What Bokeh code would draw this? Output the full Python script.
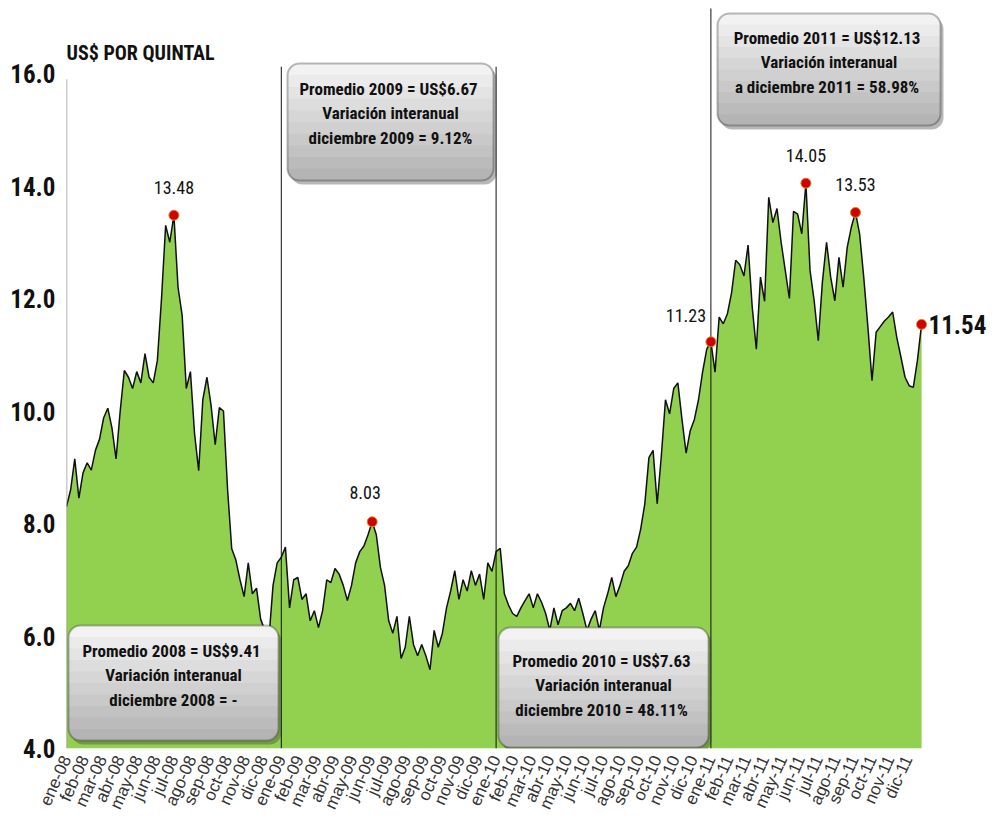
import numpy as np
from bokeh.plotting import figure
from bokeh.models import FixedTicker, NumeralTickFormatter, BoxAnnotation, Label
from bokeh.core.properties import value
from bokeh.embed import file_html
from bokeh.resources import INLINE

# ---------------- datos ----------------
meses = ["ene", "feb", "mar", "abr", "may", "jun", "jul", "ago", "sep", "oct", "nov", "dic"]
anios = ["08", "09", "10", "11"]
etiquetas_meses = [f"{m}-{a}" for a in anios for m in meses]

# precios semanales (US$ por quintal)
precios_2008 = [8.30, 8.60, 9.15, 8.45, 8.90, 9.08, 8.95, 9.30, 9.50, 9.88, 10.05, 9.70, 9.15,
                10.00, 10.72, 10.60, 10.40, 10.70, 10.50, 11.02, 10.60, 10.50, 10.90, 12.00, 13.30, 13.00,
                13.48, 12.20, 11.70, 10.40, 10.70, 9.60, 8.94, 10.20, 10.60, 10.10, 9.40, 10.06, 10.00,
                8.60, 7.55, 7.35, 7.00, 6.70, 7.30, 6.75, 6.85, 6.30, 6.10, 5.95, 6.90, 7.30]
precios_2009 = [7.40, 7.58, 6.50, 7.00, 7.04, 6.65, 6.75, 6.27, 6.45, 6.15, 6.45, 7.00, 6.95,
                7.20, 7.10, 6.90, 6.63, 6.90, 7.30, 7.50, 7.60, 7.80, 8.03, 7.80, 7.22, 6.90,
                6.27, 6.05, 6.35, 5.60, 5.80, 6.35, 5.85, 5.65, 5.85, 5.65, 5.40, 6.10, 5.80,
                6.05, 6.50, 6.80, 7.16, 6.65, 7.00, 6.80, 7.16, 6.90, 7.10, 6.65, 7.30, 7.15]
precios_2010 = [7.50, 7.56, 6.75, 6.55, 6.40, 6.35, 6.50, 6.63, 6.75, 6.50, 6.75, 6.60, 6.40,
                6.10, 6.50, 6.20, 6.45, 6.50, 6.58, 6.45, 6.67, 6.40, 6.10, 6.30, 6.45, 6.10,
                6.50, 6.75, 7.04, 6.70, 6.90, 7.15, 7.25, 7.47, 7.58, 7.90, 8.35, 9.17, 9.30,
                8.35, 9.20, 10.20, 9.95, 10.40, 10.50, 9.85, 9.25, 9.65, 9.85, 10.20, 10.70, 11.10]
precios_2011 = [11.23, 10.69, 11.67, 11.55, 11.73, 12.10, 12.68, 12.60, 12.40, 12.95, 11.85, 11.10, 12.38,
                11.95, 13.80, 13.35, 13.60, 13.00, 12.50, 12.00, 13.55, 13.50, 13.15, 14.05, 12.50, 11.96,
                11.25, 12.30, 13.00, 12.38, 11.96, 12.73, 12.20, 12.91, 13.27, 13.53, 13.15, 12.38, 11.50,
                10.54, 11.40, 11.50, 11.60, 11.67, 11.76, 11.31, 10.96, 10.60, 10.45, 10.42, 10.90, 11.54]

destacados = [13.48, 8.03, 11.23, 14.05, 13.53, 11.54]

recuadros = [
    ["Promedio 2008  = US$9.41", "Variación interanual", "diciembre 2008 = -"],
    ["Promedio 2009  = US$6.67", "Variación interanual", "diciembre 2009 = 9.12%"],
    ["Promedio 2010  = US$7.63", "Variación interanual", "diciembre 2010 =  48.11%"],
    ["Promedio 2011  = US$12.13", "Variación interanual", "a diciembre 2011 =  58.98%"],
]

# ---------------- geometria / estilo ----------------
PXM = 17.9      # px por mes
PXV = 56.25     # px por unidad de precio
X0, Y16 = 66, 73  # posicion en pagina de (mes 0, 16.0)

def mx(px):
    return (px - X0) / PXM

def vy(py):
    return 16 - (py - Y16) / PXV

VERDE = "#92d050"
F_TXT = "Roboto Condensed"

series = [precios_2008, precios_2009, precios_2010, precios_2011]
xs, ys = [], []
for k, serie in enumerate(series):
    for w, v in enumerate(serie):
        xs.append(12 * k + 12 * w / 52)
        ys.append(v)
xs = np.array(xs)
ys = np.array(ys)

W, H = 990, 832
FL, FT = 66, 8
FB = H - 748
FW, FH = W - FL, H - FT - FB

p = figure(width=W, height=H, x_range=(0, FW / PXM), y_range=(4, 4 + FH / PXV),
           output_backend="svg", toolbar_location=None,
           min_border_left=FL, min_border_right=0, min_border_top=FT, min_border_bottom=FB)
p.outline_line_color = None
p.xgrid.visible = False
p.ygrid.visible = False
p.background_fill_color = "white"
p.border_fill_color = "white"

# area
p.varea(x=xs, y1=4, y2=ys, fill_color=VERDE)
p.line(xs, ys, line_color="#111111", line_width=1.5)

# lineas de separacion de anios
p.segment(x0=[12, 24, 36], y0=[4, 4, 4], x1=[12, 24, 36], y1=[16.12, 16.12, 17.2],
          line_color="#111111", line_width=1)
# eje y
p.segment(x0=[0], y0=[4], x1=[0], y1=[15.9], line_color="#999999", line_width=1.5)

# ejes
for ax in (p.xaxis[0], p.yaxis[0]):
    ax.axis_line_color = None
    ax.major_tick_line_color = None
    ax.minor_tick_line_color = None
    ax.major_tick_out = 0
    ax.major_tick_in = 0
    ax.minor_tick_out = 0
    ax.minor_tick_in = 0

p.yaxis.ticker = FixedTicker(ticks=[4, 6, 8, 10, 12, 14, 16])
p.yaxis.formatter = NumeralTickFormatter(format="0.0")
p.yaxis.major_label_text_font = F_TXT
p.yaxis.major_label_text_font_style = "bold"
p.yaxis.major_label_text_font_size = "25px"
p.yaxis.major_label_text_color = "#111111"
p.yaxis.major_label_standoff = 11

p.xaxis.ticker = FixedTicker(ticks=list(range(48)))
p.xaxis.major_label_overrides = {i: t for i, t in enumerate(etiquetas_meses)}
p.xaxis.major_label_orientation = 1.15
p.xaxis.major_label_text_font = "Liberation Sans"
p.xaxis.major_label_text_font_size = "17px"
p.xaxis.major_label_text_color = "#333333"
p.xaxis.major_label_standoff = 8

# titulo del eje
p.text(x=[0], y=[vy(52)], text=["US$ POR QUINTAL"], text_font=value(F_TXT),
       text_font_style="bold", text_font_size="20px", text_align="left",
       text_baseline="middle", text_color="#111111")

# puntos destacados
idx = [int(np.where(np.isclose(ys, v))[0][0]) for v in destacados]
px_ = xs[idx]
py_ = ys[idx]
p.scatter(px_, py_, size=10, fill_color="#d40000", line_color="#d08a20", line_width=1)

desp_x = [0, -7, -25, 0, 0, 7]      # px
desp_y = [28, 29, 26, 28, 28, 0]     # px
tam = ["18px", "18px", "18px", "18px", "18px", "25px"]
alin = ["center", "center", "center", "center", "center", "left"]
for i, v in enumerate(destacados):
    p.text(x=[px_[i] + desp_x[i] / PXM], y=[py_[i] + desp_y[i] / PXV], text=[f"{v:.2f}"],
           text_font=value(F_TXT), text_font_size=tam[i],
           text_font_style="bold" if i == 5 else "normal",
           text_align=alin[i], text_baseline="middle", text_color="#111111")

# recuadros
cajas_px = [(68, 278, 625, 740), (287, 493, 63, 180), (498, 708, 627, 747), (717, 940, 13, 125)]
primera_linea = [25, 25, 33, 24]
RAD = 12
NB = 10
c_top = np.array([0xf2, 0xf2, 0xf2])
c_bot = np.array([0xb4, 0xb4, 0xb4])
for (l, r, t, b), lineas, pl in zip(cajas_px, recuadros, primera_linea):
    # sombra
    p.add_layout(BoxAnnotation(left=mx(l + 3), right=mx(r + 3), top=vy(t + 4), bottom=vy(b + 4),
                               fill_color="#333333", fill_alpha=0.35, line_color=None,
                               border_radius=RAD))
    hb = (b - t) / NB
    for j in range(NB):
        c = c_top + (c_bot - c_top) * (j / (NB - 1))
        col = "#%02x%02x%02x" % tuple(int(round(z)) for z in c)
        if j == 0:
            rad = (RAD, RAD, 0, 0)
        elif j == NB - 1:
            rad = (0, 0, RAD, RAD)
        else:
            rad = 0
        p.add_layout(BoxAnnotation(left=mx(l), right=mx(r), top=vy(t + j * hb),
                                   bottom=vy(t + (j + 1) * hb + (0 if j == NB - 1 else 0.6)),
                                   fill_color=col, fill_alpha=1.0, line_color=None,
                                   border_radius=rad))
    p.add_layout(BoxAnnotation(left=mx(l), right=mx(r), top=vy(t), bottom=vy(b),
                               fill_alpha=0, line_color="#1a1a1a", line_width=2,
                               border_radius=RAD))
    for k, txt in enumerate(lineas):
        p.add_layout(Label(x=mx((l + r) / 2), y=vy(t + pl + 24.5 * k), text=txt,
                           text_font=F_TXT, text_font_size="17px", text_font_style="bold",
                           text_align="center", text_baseline="middle", text_color="#111111"))

html = file_html(p, INLINE)
open("out.html", "w").write(html)
